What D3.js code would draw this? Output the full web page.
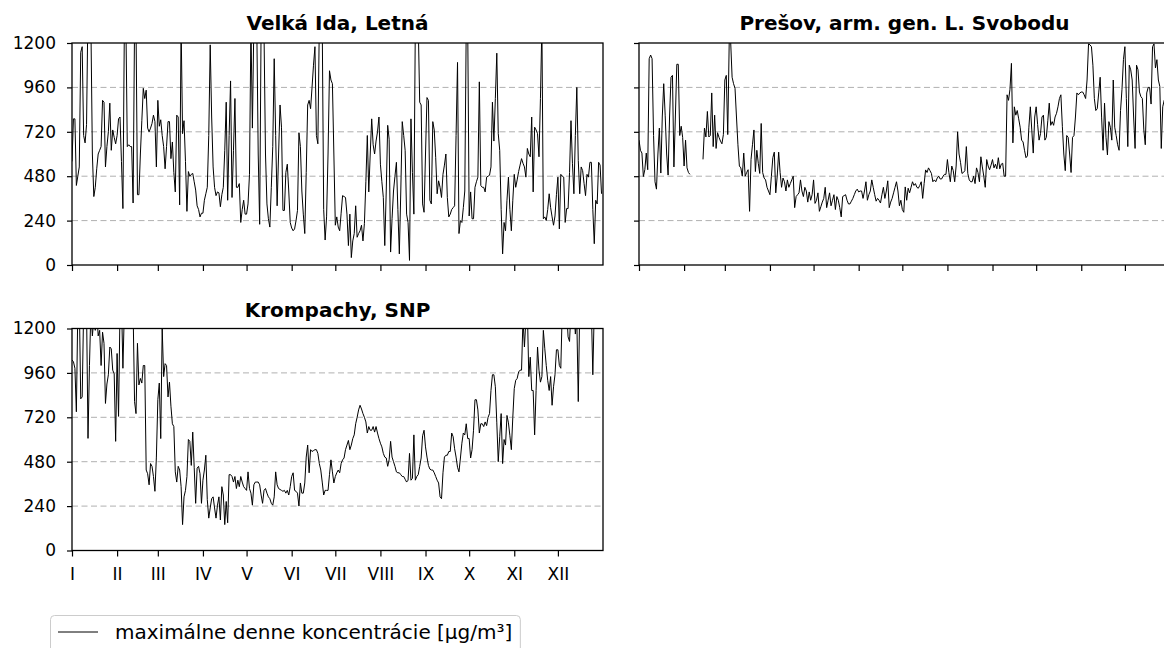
<!DOCTYPE html>
<html>
<head>
<meta charset="utf-8">
<script src="https://cdn.jsdelivr.net/npm/d3@7/dist/d3.min.js"></script>
<style>
  html, body { margin: 0; padding: 0; background: #fff; }
  svg { display: block; font-family: "DejaVu Sans", sans-serif; }
</style>
</head>
<body>
<svg id="chart" width="1164" height="648"></svg>
<script>
// month boundaries (day of year) and roman labels
const monthStarts = [0, 31, 59, 90, 120, 151, 181, 212, 243, 273, 304, 334];
const monthLabels = ['I', 'II', 'III', 'IV', 'V', 'VI', 'VII', 'VIII', 'IX', 'X', 'XI', 'XII'];
const yTicks = [0, 240, 480, 720, 960, 1200];
const gridLevels = [240, 480, 720, 960];

// daily maxima, one value per day (null = no measurement)
const velkaIda = [
  /* I */ 560, 790, 790, 430, 480, 530, 1150, 1180, 700, 660, 760, 1400, 1450, 1300, 600, 370, 420, 520, 600, 620, 640, 890, 880, 530, 640, 720, 875, 620, 730, 690, 655,
  /* II */ 700, 790, 800, 560, 305, 1300, 1350, 640, 650, 640, 640, 335, 1300, 1300, 380, 380, 600, 780, 955, 900, 945, 740, 720, 740, 765, 810, 775, 530,
  /* III */ 890, 750, 785, 700, 640, 520, 640, 775, 775, 575, 665, 500, 395, 810, 800, 325, 1300, 710, 780, 560, 290, 505, 480, 490, 495, 450, 405, 320, 300, 260, 280,
  /* IV */ 280, 350, 385, 420, 700, 1190, 800, 530, 420, 375, 395, 390, 315, 380, 420, 620, 880, 350, 700, 995, 365, 620, 900, 420, 420, 440, 230, 300, 350, 275,
  /* V */ 275, 330, 490, 1300, 740, 1300, 1350, 1300, 600, 220, 1300, 1350, 1250, 600, 330, 250, 205, 420, 640, 1115, 700, 320, 600, 865, 745, 295, 295, 500, 545, 400, 230,
  /* VI */ 200, 185, 195, 240, 295, 715, 640, 400, 275, 170, 500, 865, 890, 845, 960, 1080, 1180, 700, 655, 1300, 1400, 1300, 300, 135, 260, 600, 1050, 1000, 980, 600,
  /* VII */ 215, 260, 205, 185, 280, 375, 370, 365, 275, 105, 275, 40, 130, 170, 320, 150, 170, 185, 215, 130, 225, 450, 700, 395, 600, 790, 650, 600, 670, 720, 800,
  /* VIII */ 545, 450, 365, 105, 400, 755, 680, 70, 250, 400, 480, 555, 300, 60, 400, 775, 700, 620, 275, 230, 25, 790, 500, 275, 1300, 1400, 1300, 880, 865, 330, 285,
  /* IX */ 600, 905, 890, 350, 330, 775, 730, 580, 385, 455, 420, 365, 490, 540, 600, 365, 260, 275, 300, 310, 320, 700, 1095, 170, 240, 230, 310, 400, 1300, 1300,
  /* X */ 265, 395, 250, 250, 420, 450, 475, 990, 430, 420, 420, 395, 475, 480, 485, 530, 880, 670, 900, 1145, 710, 620, 300, 60, 230, 185, 350, 475, 300, 185, 350,
  /* XI */ 490, 420, 460, 505, 540, 575, 550, 530, 475, 630, 600, 585, 800, 395, 745, 730, 710, 585, 900, 1300, 250, 260, 240, 300, 385, 310, 260, 215, 265, 380,
  /* XII */ 475, 195, 490, 480, 475, 230, 305, 305, 500, 780, 550, 385, 700, 960, 565, 385, 530, 510, 440, 375, 490, 475, 555, 555, 300, 115, 350, 330, 555, 540, 385
];

const presov = [
  /* I */ 675, 620, 605, 478, 515, 605, 515, 1115, 1135, 1115, 700, 450, 410, 600, 740, 497, 800, 980, 810, 600, 486, 800, 1015, 1025, 530, 800, 1085, 1085, 700, 750, 690,
  /* II */ 535, 675, 525, 500, 490, null, null, null, null, null, null, null, null, 571, 740, 692, 830, 692, 700, 930, 640, 810, 630, 715, 690, 670, 655, 705,
  /* III */ 1000, 1025, 705, 1200, 1210, 1015, 980, 955, 800, 650, 535, 525, 480, 605, 480, 500, 515, 290, 570, 650, 730, 505, 620, 550, 495, 765, 500, 470, 460, 420, 400,
  /* IV */ 380, 480, 580, 610, 390, 480, 610, 500, 420, 470, 450, 400, 460, 420, 440, 460, 480, 310, 370, 380, 390, 460, 400, 370, 420, 400, 340, 395, 350, 380,
  /* V */ 460, 333, 350, 390, 290, 315, 340, 360, 420, 310, 350, 390, 320, 350, 380, 300, 370, 350, 310, 260, 370, 375, 380, 350, 330, 330, 345, 360, 380, 400, 410,
  /* VI */ 395, 400, 400, 360, 400, 450, 350, 380, 400, 460, 420, 380, 345, 360, 350, 335, 380, 420, 360, 400, 455, 310, 340, 360, 390, 420, 450, 400, 320, 350,
  /* VII */ 300, 285, 422, 350, 415, 390, 420, 450, 430, 440, 420, 415, 430, 450, 360, 440, 514, 500, 525, 510, 495, 450, 460, 450, 470, 480, 465, 465, 480, 490, 490,
  /* VIII */ 570, 500, 450, 535, 510, 450, 535, 720, 600, 555, 495, 500, 510, 640, 495, 460, 450, 450, 480, 440, 525, 500, 450, 585, 530, 480, 420, 570, 535, 515, 540,
  /* IX */ 570, 525, 545, 520, 580, 520, 545, 550, 480, 480, 920, 890, 950, 1090, 660, 855, 810, 835, 790, 745, 675, 665, 620, 580, 590, 745, 855, 730, 605, 800,
  /* X */ 855, 760, 675, 710, 800, 810, 675, 690, 780, 875, 755, 775, 755, 800, 820, 855, 900, 920, 750, 600, 510, 700, 690, 600, 500, 690, 700, 800, 930, 920, 930,
  /* XI */ 935, 935, 920, 900, 1000, 1195, 1190, 1180, 1080, 900, 835, 845, 930, 1015, 795, 620, 875, 690, 595, 775, 745, 675, 1000, 745, 700, 650, 620, 835, 950, 1110,
  /* XII */ 1180, 900, 640, 1080, 1055, 1000, 800, 630, 1080, 1055, 935, 910, 900, 730, 650, 930, 960, 960, 870, 1180, 1195, 1065, 1110, 1000, 965, 630, 855, 890, 900, 870, 850
];

const krompachy = [
  /* I */ 1030, 1020, 985, 750, 1300, 1350, 820, 830, 1300, 1350, 1300, 606, 1000, 1300, 1160, 1250, 1190, 1300, 1160, 1190, 1000, 1180, 1120, 795, 900, 950, 1100, 1090, 975, 955, 590,
  /* II */ 1065, 725, 1300, 1350, 985, 1300, 1300, 1350, 1300, 1250, 1300, 1300, 805, 740, 1120, 895, 930, 905, 1000, 1000, 435, 415, 355, 470, 455, 400, 320, 505,
  /* III */ 815, 905, 605, 1200, 940, 1010, 1000, 830, 910, 780, 685, 670, 425, 370, 455, 435, 345, 140, 290, 325, 400, 600, 590, 460, 640, 450, 255, 445, 455, 415, 255,
  /* IV */ 380, 435, 515, 275, 175, 230, 280, 290, 230, 175, 245, 290, 165, 345, 300, 140, 265, 150, 410, 410, 400, 370, 400, 335, 380, 345, 400, 370, 345, 335,
  /* V */ 325, 425, 335, 310, 245, 355, 370, 370, 370, 355, 300, 255, 325, 335, 310, 290, 280, 255, 245, 290, 425, 355, 335, 330, 325, 320, 325, 310, 325, 300, 345,
  /* VI */ 400, 420, 325, 320, 310, 240, 365, 310, 310, 365, 505, 570, 420, 545, 535, 540, 545, 545, 525, 470, 435, 370, 300, 325, 325, 325, 410, 490, 425, 365,
  /* VII */ 400, 420, 435, 420, 470, 490, 500, 545, 570, 595, 545, 570, 605, 625, 685, 720, 760, 785, 765, 740, 720, 695, 635, 670, 650, 650, 670, 640, 670, 635, 605,
  /* VIII */ 580, 560, 525, 505, 500, 455, 490, 590, 505, 480, 455, 425, 420, 420, 410, 400, 400, 385, 370, 380, 525, 380, 390, 625, 380, 400, 410, 455, 500, 620, 650,
  /* IX */ 560, 505, 460, 440, 435, 435, 420, 400, 380, 365, 290, 280, 420, 505, 515, 515, 535, 535, 635, 615, 550, 505, 450, 425, 500, 580, 635, 625, 685, 605,
  /* X */ 605, 500, 545, 650, 815, 815, 760, 635, 685, 685, 670, 695, 675, 720, 740, 865, 950, 950, 885, 690, 480, 615, 740, 470, 600, 570, 730, 690, 620, 545, 720,
  /* XI */ 875, 920, 930, 965, 975, 975, 1250, 1100, 1250, 1300, 940, 1045, 865, 865, 625, 865, 1100, 975, 910, 940, 1190, 1090, 1000, 920, 865, 940, 785, 885, 950, 1085,
  /* XII */ 1085, 1000, 985, 1300, 1300, 1250, 1300, 1155, 1130, 1300, 1300, 1300, 1170, 1250, 805, 1300, 1300, 1300, 1300, 1300, 1300, 1300, 1300, 1300, 950, 1300, 1300, 1300, 1300, 1300, 1300
];

const panels = [
  { title: 'Velká Ida, Letná', values: velkaIda, left: 72, top: 43, yLabels: true, xLabels: false },
  { title: 'Prešov, arm. gen. L. Svobodu', values: presov, left: 639, top: 43, yLabels: false, xLabels: false },
  { title: 'Krompachy, SNP', values: krompachy, left: 72, top: 328.5, yLabels: true, xLabels: true }
];

const legendLabel = 'maximálne denne koncentrácie [µg/m³]';

const W = 531, H = 222;
const svg = d3.select('#chart');
const defs = svg.append('defs');

svg.append('rect').attr('width', 1164).attr('height', 648).attr('fill', '#fff');

panels.forEach((p, idx) => {
  const x = d3.scaleLinear().domain([0, 365]).range([p.left, p.left + W]);
  const y = d3.scaleLinear().domain([0, 1200]).range([p.top + H, p.top]);
  const g = svg.append('g');

  defs.append('clipPath').attr('id', 'clip' + idx)
    .append('rect')
    .attr('x', p.left).attr('y', p.top)
    .attr('width', W).attr('height', H);

  // dashed horizontal grid
  g.append('g')
    .selectAll('line')
    .data(gridLevels)
    .join('line')
    .attr('x1', p.left).attr('x2', p.left + W)
    .attr('y1', d => y(d)).attr('y2', d => y(d))
    .attr('stroke', '#b0b0b0')
    .attr('stroke-width', 1)
    .attr('stroke-dasharray', '6,3.5');

  // series
  const line = d3.line()
    .defined(d => d != null)
    .x((d, i) => x(i))
    .y(d => y(d));

  g.append('path')
    .datum(p.values)
    .attr('clip-path', `url(#clip${idx})`)
    .attr('fill', 'none')
    .attr('stroke', '#000')
    .attr('stroke-width', 1)
    .attr('stroke-linejoin', 'round')
    .attr('d', line);

  // axes
  const xAxis = d3.axisBottom(x)
    .tickValues(monthStarts)
    .tickSize(6)
    .tickSizeOuter(0)
    .tickPadding(11.5)
    .tickFormat(p.xLabels ? (d, i) => monthLabels[i] : () => '');
  const gx = g.append('g')
    .attr('transform', `translate(0,${p.top + H})`)
    .call(xAxis);
  gx.select('.domain').remove();
  gx.selectAll('line').attr('stroke', '#000').attr('stroke-width', 1.2);
  gx.selectAll('text').attr('font-size', 17).attr('fill', '#000')
    .attr('font-family', '"DejaVu Sans", sans-serif');

  const yAxis = d3.axisLeft(y)
    .tickValues(yTicks)
    .tickSize(5)
    .tickSizeOuter(0)
    .tickPadding(11)
    .tickFormat(p.yLabels ? d3.format('d') : () => '');
  const gy = g.append('g')
    .attr('transform', `translate(${p.left},0)`)
    .call(yAxis);
  gy.select('.domain').remove();
  gy.selectAll('line').attr('stroke', '#000').attr('stroke-width', 1.2);
  gy.selectAll('text').attr('font-size', 17).attr('fill', '#000')
    .attr('font-family', '"DejaVu Sans", sans-serif');

  // frame
  g.append('rect')
    .attr('x', p.left).attr('y', p.top)
    .attr('width', W).attr('height', H)
    .attr('fill', 'none')
    .attr('stroke', '#000')
    .attr('stroke-width', 1.3);

  // title
  g.append('text')
    .attr('x', p.left + W / 2)
    .attr('y', p.top - (idx === 2 ? 12 : 13.5))
    .attr('text-anchor', 'middle')
    .attr('font-size', 20)
    .attr('font-weight', 'bold')
    .attr('fill', '#000')
    .text(p.title);
});

// legend
const lg = svg.append('g');
const legendText = lg.append('text')
  .attr('x', 115).attr('y', 639)
  .attr('font-size', 20)
  .attr('fill', '#000')
  .text(legendLabel);
const tw = legendText.node().getComputedTextLength();
lg.insert('rect', 'text')
  .attr('x', 50.5).attr('y', 615.5)
  .attr('width', 115 + tw + 8 - 50.5).attr('height', 42)
  .attr('rx', 4)
  .attr('fill', '#fff')
  .attr('stroke', '#cccccc')
  .attr('stroke-width', 1);
lg.append('line')
  .attr('x1', 58).attr('x2', 98)
  .attr('y1', 632).attr('y2', 632)
  .attr('stroke', '#000').attr('stroke-width', 1);
</script>
</body>
</html>
